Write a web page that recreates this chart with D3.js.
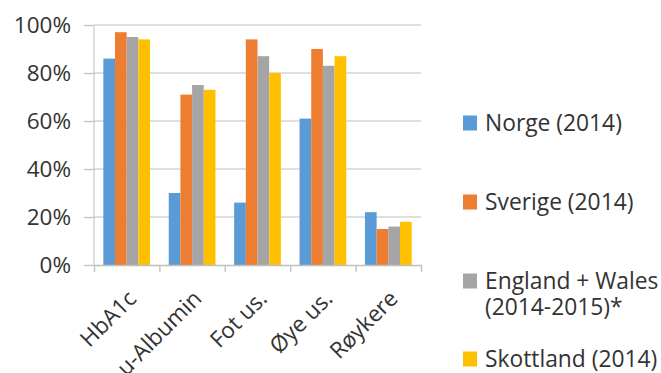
<!DOCTYPE html>
<html>
<head>
<meta charset="utf-8">
<script src="https://cdn.jsdelivr.net/npm/d3@7"></script>
<style>
  body { margin: 0; background: #fff; }
  svg text { font-family: "Open Sans", sans-serif; fill: #333; }
</style>
</head>
<body>
<div id="chart"></div>
<script>
const CATEGORIES = ["HbA1c", "u-Albumin", "Fot us.", "Øye us.", "Røykere"];
const SERIES = ["Norge (2014)", "Sverige (2014)", "England + Wales (2014-2015)*", "Skottland (2014)"];
const LEGEND_LINES = [["Norge (2014)"], ["Sverige (2014)"], ["England + Wales", "(2014-2015)*"], ["Skottland (2014)"]];
const NORGE = [86, 30, 26, 61, 22];
const SVERIGE = [97, 71, 94, 90, 15];
const ENGLAND = [95, 75, 87, 83, 16];
const SKOTTLAND = [94, 73, 80, 87, 18];
const Y_TICKS = [0, 20, 40, 60, 80, 100];
const COLORS = ["#5B9BD5", "#ED7D31", "#A5A5A5", "#FFC000"];

const values = [NORGE, SVERIGE, ENGLAND, SKOTTLAND];
const W = 661, H = 373;

const svg = d3.select("#chart").append("svg")
  .attr("width", W)
  .attr("height", H);

const y = d3.scaleLinear().domain([0, 100]).range([265, 25]);
const x0 = d3.scaleBand().domain(CATEGORIES).range([94, 421]).padding(0);
const x1 = d3.scaleBand().domain(SERIES).range([0, x0.bandwidth()])
  .paddingInner(0).paddingOuter(0.8);

// gridlines
svg.append("g")
  .selectAll("line")
  .data(Y_TICKS.filter(d => d > 0))
  .join("line")
  .attr("x1", 94).attr("x2", 421)
  .attr("y1", d => y(d)).attr("y2", d => y(d))
  .attr("stroke", "#D4D4D4")
  .attr("stroke-width", 1.3);

// y axis
const yAxis = svg.append("g")
  .attr("transform", "translate(94,0)")
  .call(d3.axisLeft(y).tickValues(Y_TICKS).tickSize(10).tickPadding(13)
    .tickFormat(d => d + "%"));
yAxis.select(".domain").attr("stroke", "#BFBFBF").attr("d", `M0,${y(100)}V${y(0)}`);
yAxis.selectAll(".tick line").attr("stroke", "#C4C4C4").attr("stroke-width", 1.3);
yAxis.selectAll("text")
  .style("font-size", "22.5px")
  .attr("fill", "#333");

// bars
const groups = svg.append("g")
  .selectAll("g")
  .data(CATEGORIES)
  .join("g")
  .attr("transform", d => `translate(${x0(d)},0)`);

groups.selectAll("rect")
  .data((c, ci) => SERIES.map((s, si) => ({ s, si, v: values[si][ci] })))
  .join("rect")
  .attr("x", d => x1(d.s))
  .attr("width", x1.bandwidth())
  .attr("y", d => y(d.v))
  .attr("height", d => y(0) - y(d.v))
  .attr("fill", d => COLORS[d.si]);

// x axis with ticks at category boundaries
const xEdges = d3.scaleLinear().domain([0, CATEGORIES.length]).range([94, 421]);
const xAxis = svg.append("g")
  .attr("transform", `translate(0,${y(0)})`)
  .call(d3.axisBottom(xEdges).ticks(CATEGORIES.length).tickSize(7).tickSizeOuter(0).tickFormat(""));
xAxis.select(".domain").attr("stroke", "#BFBFBF").attr("stroke-width", 1.3);
xAxis.selectAll(".tick line").attr("stroke", "#BFBFBF").attr("stroke-width", 1.3);

// rotated category labels
svg.append("g")
  .selectAll("text")
  .data(CATEGORIES)
  .join("text")
  .attr("text-anchor", "end")
  .attr("transform", d => `translate(${x0(d) + x0.bandwidth() / 2 + 11},300) rotate(-45)`)
  .style("font-size", "22.5px")
  .text(d => d);

// legend
const legend = svg.append("g");
const rowY = [123, 202, 281, 359];
LEGEND_LINES.forEach((lines, i) => {
  legend.append("rect")
    .attr("x", 463).attr("y", rowY[i] - 7.5)
    .attr("width", 14).attr("height", 15)
    .attr("fill", COLORS[i]);
  const t = legend.append("text")
    .attr("y", rowY[i])
    .attr("dy", "0.36em")
    .style("font-size", "22.8px");
  lines.forEach((line, j) => {
    t.append("tspan")
      .attr("x", 485)
      .attr("dy", j === 0 ? null : 26)
      .text(line);
  });
});
</script>
</body>
</html>
